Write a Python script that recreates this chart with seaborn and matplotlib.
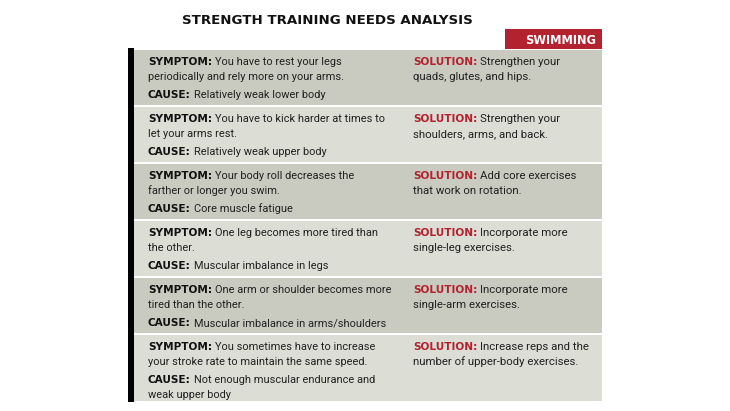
import matplotlib
matplotlib.use("Agg")
import matplotlib.pyplot as plt
import seaborn as sns

sns.set_theme(style="white")

title = "STRENGTH TRAINING NEEDS ANALYSIS"
tab = "SWIMMING"
symptoms = [
    "You have to rest your legs\nperiodically and rely more on your arms.",
    "You have to kick harder at times to\nlet your arms rest.",
    "Your body roll decreases the\nfarther or longer you swim.",
    "One leg becomes more tired than\nthe other.",
    "One arm or shoulder becomes more\ntired than the other.",
    "You sometimes have to increase\nyour stroke rate to maintain the same speed.",
]
causes = [
    "Relatively weak lower body",
    "Relatively weak upper body",
    "Core muscle fatigue",
    "Muscular imbalance in legs",
    "Muscular imbalance in arms/shoulders",
    "Not enough muscular endurance and\nweak upper body",
]
solutions = [
    "Strengthen your\nquads, glutes, and hips.",
    "Strengthen your\nshoulders, arms, and back.",
    "Add core exercises\nthat work on rotation.",
    "Incorporate more\nsingle-leg exercises.",
    "Incorporate more\nsingle-arm exercises.",
    "Increase reps and the\nnumber of upper-body exercises.",
]

RED = "#b3222f"
DARK = "#c9cac0"
LIGHT = "#dcddd5"
BODY = "Roboto"
LINE = 15

fig = plt.figure(figsize=(7.3, 4.11), dpi=100)
ax = fig.add_axes([0, 0, 1, 1])
ax.set_xlim(0, 730)
ax.set_ylim(411, 0)
ax.axis("off")
renderer = fig.canvas.get_renderer()


def pair(x, y, label, rest, color, size=7.9):
    t = ax.text(x, y, label, fontsize=7.6, fontweight="bold", family="DejaVu Sans",
                color=color, va="baseline")
    w = t.get_window_extent(renderer).width  # pixels == data units here
    lines = rest.split("\n")
    ax.text(x + w + 3, y, lines[0], fontsize=size, family=BODY, color="#222222", va="baseline")
    for i, ln in enumerate(lines[1:], 1):
        ax.text(x, y + i * LINE, ln, fontsize=size, family=BODY, color="#222222", va="baseline")
    return len(lines)


ax.text(327, 24, title, fontsize=9.6, fontweight="heavy", family="DejaVu Sans",
        ha="center", va="baseline", color="#111111")
ax.add_patch(plt.Rectangle((505, 29), 97, 20, color=RED, lw=0))
ax.text(596, 44, tab, fontsize=8.3, fontweight="bold", family="DejaVu Sans",
        color="white", ha="right", va="baseline")

bounds = [49, 106, 163, 220, 277, 334, 402]
for i in range(len(symptoms)):
    top, bot = bounds[i], bounds[i + 1]
    ax.add_patch(plt.Rectangle((134, top + 1), 468, bot - top - 2,
                               color=DARK if i % 2 == 0 else LIGHT, lw=0))
    y = top + 16
    n = pair(148, y, "SYMPTOM:", symptoms[i], "#111111")
    pair(148, y + n * LINE + 3, "CAUSE:", causes[i], "#111111")
    pair(413, y, "SOLUTION:", solutions[i], RED, size=8.2)

ax.add_patch(plt.Rectangle((128, 48), 6, 354, color="black", lw=0))

fig.savefig("out.png", dpi=100, facecolor="white")
